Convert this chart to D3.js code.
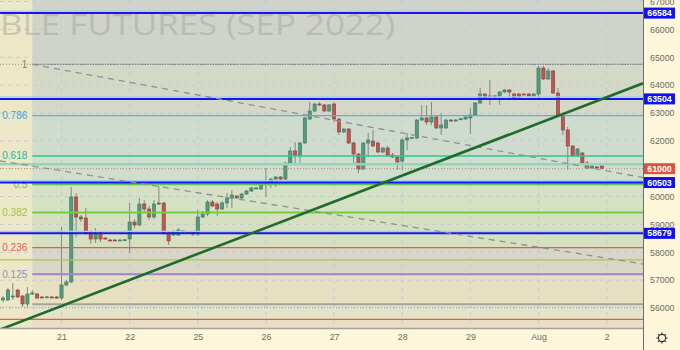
<!DOCTYPE html>
<html>
<head>
<meta charset="utf-8">
<script src="https://cdnjs.cloudflare.com/ajax/libs/d3/7.8.5/d3.min.js"></script>
<style>
body { margin: 0; background: #fdf6da; }
svg { display: block; font-family: "Liberation Sans", Arial, sans-serif; }
.axis text { fill: #6b6b6b; font-size: 8.8px; }
.axis path { display: none; }
</style>
</head>
<body>
<div id="chart"></div>
<script>
// days: 0 = Jul 20, 1 = Jul 21 ... 8 = Aug 1, 9 = Aug 2 (14 hourly bars a day)
var dayNums = [1, 2, 3, 4, 5, 6, 7, 8, 9];
var dayLabels = ["21", "22", "25", "26", "27", "28", "29", "Aug", "2"];
var priceTicks = [56000, 57000, 58000, 59000, 60000, 61000, 62000, 63000, 64000, 65000, 66000, 67000];

// [open, high, low, close]
var jul20 = [[56287,56431,56215,56359],[56287,56718,56251,56646],[56395,56897,56287,56431],[56646,56682,56359,56395],
  [56431,56467,56036,56143],[56143,56753,56036,56502],[56502,56646,56467,56538],[56502,56538,56323,56359],
  [56395,56431,56359,56377],[56395,56431,56359,56400],[56395,56431,56359,56377],[56395,56431,56323,56359]];
var jul21 = [[56359,58907,56287,56825],[56825,57005,56789,56933],[56933,60342,56897,59984],[59984,60127,58548,59266],
  [59266,59338,59086,59194],[59230,59589,58620,58692],[58692,58799,58297,58476],[58476,58871,58333,58692],
  [58692,58764,58369,58476],[58512,58548,58440,58476],[58440,58476,58405,58430],[58440,58476,58405,58420],
  [58430,58476,58405,58440],[58440,58476,58405,58450]];
var jul22 = [[58476,59768,57974,59086],[59086,59194,58871,58979],[58979,59948,58943,59732],[59732,59876,59445,59553],
  [59553,59661,59158,59266],[59266,59876,59194,59732],[59768,60378,59697,59750],[59768,59804,58620,58692],
  [58692,58764,58261,58405],[58620,58799,58584,58728],[58620,58871,58584,58799],[58764,58799,58692,58745],
  [58728,58764,58692,58735],[58728,58764,58584,58656]];
var jul25 = [[58656,59517,58584,59266],[59266,59481,59230,59373],[59373,59876,59302,59804],[59804,59876,59625,59661],
  [59732,59804,59302,59553],[59553,59840,59517,59768],[59768,60127,59589,59948],[59948,60235,59589,60056],
  [60020,60056,59912,59948],[59948,60127,59912,60091],[60091,60235,60056,60199],[60199,60342,60163,60307],
  [60289,60342,60271,60307],[60271,60522,60235,60486]];
var jul26 = [[60450,61024,59984,60468],[60450,60665,60307,60629],[60629,60737,60342,60701],[60701,60737,60593,60629],
  [60629,61240,60593,61204],[61204,61778,61168,61635],[61635,61958,61204,61491],[61491,61958,61132,61922],
  [61922,62855,61886,62819],[62783,63393,62747,63070],[63070,63357,63034,63321],[63321,63393,63250,63286],
  [63286,63321,63034,63070],[63070,63321,63034,63286]];
var jul27 = [[63321,63393,62675,62783],[62783,62819,62209,62317],[62317,62460,62281,62424],[62424,62460,61886,61922],
  [61922,61958,61204,61527],[61527,61563,60845,60989],[60989,61958,60953,61922],[61922,62281,61419,62029],
  [61993,62388,61778,61814],[61922,61958,61563,61599],[61599,61778,61563,61742],[61742,61814,61419,61491],
  [61491,61563,61383,61419],[61419,61455,60953,61240]];
var jul28 = [[61276,62101,60953,62029],[62029,62281,61670,62101],[62101,62137,62065,62119],[62101,62783,62065,62747],
  [62747,63286,62711,62819],[62819,63286,62568,62675],[62675,63393,62568,62855],[62855,62891,62424,62460],
  [62460,62998,62209,62568],[62460,62783,62424,62747],[62747,62783,62675,62711],[62711,62783,62675,62747],
  [62783,62819,62747,62790],[62783,62891,62747,62855]];
var jul29 = [[62819,63178,62245,62927],[62927,63393,62891,63357],[63357,63895,63321,63680],[63680,63716,63501,63537],
  [63609,64183,63286,63591],[63609,63645,63537,63573],[63609,63788,63286,63752],[63752,63860,63716,63824],
  [63824,63860,63465,63752],[63680,63716,63501,63537],[63680,63716,63537,63573],[63680,63698,63645,63662],
  [63680,63716,63573,63609],[63609,63716,63573,63680]];
var aug1 = [[63680,64685,63465,64613],[64613,64685,64183,64219],[64219,64613,64183,64506],[64506,64542,63680,63716],
  [63716,63895,62891,62927],[62927,62963,62209,62388],[62388,62496,60953,61814],[61814,61850,61419,61455],
  [61455,61742,61419,61706],[61563,61599,61168,61204],[61204,61276,60989,61024],[61024,61132,60989,61096],
  [61060,61096,61024,61050],[61096,61132,60989,61000]];

// fibonacci retracement (anchored at Jul 20, bar 8)
var fibLow = 56133, fibHigh = 64746, fibStart = 8 / 14;
var fibLevels = [1, 0.786, 0.618, 0.5, 0.382, 0.236, 0.125, 0];
var fibLabels = ["1", "0.786", "0.618", "0.5", "0.382", "0.236", "0.125", ""];

// horizontal levels
var keyLevels = [66584, 63504, 60503, 58679];
var otherLevels = [61157, 57726, 56024, 55594];
var lastPrice = 61000;

// trend lines: [t, price] pairs
var trendUp = [[0.0976, 55225], [9.533, 64064]];
var dashA = [[fibStart, 64746], [9.533, 60680]];
var dashB = [[0.0976, 61276], [9.533, 57579]];

var width = 680, height = 350, plotW = 643, plotH = 328;

var x = d3.scaleLinear().domain([1, 9]).range([61.5, 606.7]);
var y = d3.scaleLinear().domain([67000, 56000]).range([1.5, 308]);

var candles = [];
[[0, 2, jul20], [1, 0, jul21], [2, 0, jul22], [3, 0, jul25], [4, 0, jul26],
 [5, 0, jul27], [6, 0, jul28], [7, 0, jul29], [8, 0, aug1]].forEach(function(d) {
  d[2].forEach(function(b, k) {
    candles.push({t: d[0] + (d[1] + k) / 14, o: b[0], h: b[1], l: b[2], c: b[3]});
  });
});

var svg = d3.select("#chart").append("svg")
  .attr("width", width)
  .attr("height", height);

svg.append("rect").attr("width", width).attr("height", height).attr("fill", "#fdf6da");

svg.append("clipPath").attr("id", "plot").append("rect")
  .attr("width", plotW).attr("height", plotH);

var plot = svg.append("g").attr("clip-path", "url(#plot)");

plot.append("rect").attr("width", plotW).attr("height", plotH).attr("fill", "#ece8c7");

// fib background bands
var fibPrice = function(r) { return fibLow + r * (fibHigh - fibLow); };
var bandColors = ["#cfd3c9", "#d4d8c6", "#cedbcd", "#d0dfcb", "#d5e1c3", "#d6dfc0", "#d8d6c5", "#e6dfc1", "#e3e5c8"];
var bandEdges = [0].concat(fibLevels.map(function(r) { return y(fibPrice(r)); })).concat([plotH]);
var fx = x(fibStart);
for (var i = 0; i < bandEdges.length - 1; i++) {
  plot.append("rect")
    .attr("x", fx).attr("y", bandEdges[i])
    .attr("width", plotW - fx).attr("height", bandEdges[i + 1] - bandEdges[i])
    .attr("fill", bandColors[i]);
}
// small pinkish strip under the red level
plot.append("rect").attr("x", fx).attr("y", y(otherLevels[3]))
  .attr("width", plotW - fx).attr("height", plotH - y(otherLevels[3]))
  .attr("fill", "#ebdcc4");

// grid
plot.selectAll(".hgrid").data(priceTicks).enter().append("line")
  .attr("x1", 0).attr("x2", plotW)
  .attr("y1", function(d) { return y(d); }).attr("y2", function(d) { return y(d); })
  .attr("stroke", "#c3cbd8").attr("stroke-width", 1).attr("stroke-dasharray", "4,4");
plot.selectAll(".vgrid").data(dayNums).enter().append("line")
  .attr("y1", 0).attr("y2", plotH)
  .attr("x1", function(d) { return x(d); }).attr("x2", function(d) { return x(d); })
  .attr("stroke", "#c3cbd8").attr("stroke-width", 1).attr("stroke-dasharray", "4,4");

// watermark
svg.append("text")
  .attr("x", 0).attr("y", 35)
  .attr("textLength", 395).attr("lengthAdjust", "spacingAndGlyphs")
  .attr("font-family", "'Open Sans', sans-serif")
  .attr("font-size", 30).attr("fill", "#a3a59f").attr("fill-opacity", 0.5)
  .text("BLE FUTURES (SEP 2022)");

// candles
var cg = plot.append("g");
cg.selectAll(".wick").data(candles).enter().append("line")
  .attr("x1", function(d) { return x(d.t); }).attr("x2", function(d) { return x(d.t); })
  .attr("y1", function(d) { return y(d.h); }).attr("y2", function(d) { return y(d.l); })
  .attr("stroke", "#7f8987").attr("stroke-width", 1);
cg.selectAll(".body").data(candles).enter().append("rect")
  .attr("x", function(d) { return x(d.t) - 1.6; })
  .attr("width", 3.2)
  .attr("y", function(d) { return y(Math.max(d.o, d.c)); })
  .attr("height", function(d) { return Math.max(1, Math.abs(y(d.o) - y(d.c))); })
  .attr("fill", function(d) { return d.c >= d.o ? "#55997e" : "#b85a52"; })
  .attr("stroke", function(d) { return d.c >= d.o ? "#3c7a63" : "#8c3f39"; })
  .attr("stroke-width", 0.6);

// other horizontal levels
var otherColors = ["#8fd6be", "#a9c84a", "#8ea0a0", "#e05a5a"];
var otherWidths = [2.5, 1.3, 1, 1.3];
otherLevels.forEach(function(p, i) {
  plot.append("line")
    .attr("x1", 0).attr("x2", plotW).attr("y1", y(p)).attr("y2", y(p))
    .attr("stroke", otherColors[i]).attr("stroke-width", otherWidths[i])
    .attr("stroke-dasharray", i == 2 ? "1,2" : null);
});

// last price line
plot.append("line")
  .attr("x1", 0).attr("x2", plotW).attr("y1", y(lastPrice)).attr("y2", y(lastPrice))
  .attr("stroke", "#c98a6a").attr("stroke-width", 1).attr("stroke-dasharray", "1,2");

// fib level lines + labels
var fibColors = ["#80838a", "#5aaee6", "#2fc39b", "#5cc25a", "#6fcf3f", "#e05a5a", "#9c85cc", "#a5a49c"];
var fibTextColors = ["#80838a", "#3f9ede", "#2bb597", "#5fc15a", "#a2c33a", "#e35d5d", "#9a86c6", "#a5a49c"];
var fibWidths = [1.2, 1.2, 1.4, 2, 2, 1.4, 2, 2];
plot.append("line")
  .attr("x1", 0).attr("x2", plotW).attr("y1", y(fibHigh)).attr("y2", y(fibHigh))
  .attr("stroke", "#8c8e8a").attr("stroke-width", 1).attr("stroke-dasharray", "1,2");
fibLevels.forEach(function(r, i) {
  var yy = y(fibPrice(r));
  plot.append("line")
    .attr("x1", fx).attr("x2", plotW).attr("y1", yy).attr("y2", yy)
    .attr("stroke", fibColors[i]).attr("stroke-width", fibWidths[i])
    .attr("stroke-dasharray", i == 0 ? "1.5,1" : null);
  plot.append("text")
    .attr("x", fx - 5).attr("y", yy).attr("dy", "0.35em")
    .attr("text-anchor", "end").attr("font-size", 10)
    .attr("fill", fibTextColors[i])
    .text(fibLabels[i]);
});

// key blue levels
keyLevels.forEach(function(p) {
  plot.append("line")
    .attr("x1", 0).attr("x2", plotW).attr("y1", y(p) - 2).attr("y2", y(p) - 2)
    .attr("stroke", "#a9cbe9").attr("stroke-width", 1.2);
  plot.append("line")
    .attr("x1", 0).attr("x2", plotW).attr("y1", y(p)).attr("y2", y(p))
    .attr("stroke", "#1515f0").attr("stroke-width", 2);
});

// diagonal lines
var line = d3.line().x(function(d) { return x(d[0]); }).y(function(d) { return y(d[1]); });
plot.append("path").datum(dashA).attr("d", line)
  .attr("stroke", "#8e928e").attr("stroke-width", 1.3).attr("stroke-dasharray", "6,5").attr("fill", "none");
plot.append("path").datum(dashB).attr("d", line)
  .attr("stroke", "#8e928e").attr("stroke-width", 1.3).attr("stroke-dasharray", "6,5").attr("fill", "none");
plot.append("path").datum(trendUp).attr("d", line)
  .attr("stroke", "#1f6b2b").attr("stroke-width", 2.6).attr("fill", "none");

// borders
svg.append("line").attr("x1", 0).attr("x2", plotW).attr("y1", plotH + 0.5).attr("y2", plotH + 0.5)
  .attr("stroke", "#a3a39b").attr("stroke-width", 1.5);
svg.append("line").attr("x1", plotW + 0.5).attr("x2", plotW + 0.5).attr("y1", 0).attr("y2", height)
  .attr("stroke", "#6f6f6a").attr("stroke-width", 1);

// axes (the 61000 tick sits under the last price box)
svg.append("g").attr("class", "axis")
  .attr("transform", "translate(0," + plotH + ")")
  .call(d3.axisBottom(x).tickValues(dayNums).tickFormat(function(d, i) { return dayLabels[i]; })
    .tickSize(0).tickPadding(6));
svg.append("g").attr("class", "axis")
  .attr("transform", "translate(" + plotW + ",0)")
  .call(d3.axisRight(y).tickValues(priceTicks.filter(function(p) { return p != lastPrice; }))
    .tickFormat(d3.format("d")).tickSize(0).tickPadding(7));

// boxed price labels
function priceBox(p, color) {
  svg.append("rect").attr("x", plotW + 1).attr("y", y(p) - 5.5).attr("width", 31).attr("height", 11)
    .attr("fill", color);
  svg.append("text").attr("x", plotW + 16.5).attr("y", y(p)).attr("dy", "0.35em")
    .attr("text-anchor", "middle").attr("font-size", 8.8).attr("font-weight", "bold")
    .attr("fill", "#ffffff").text(p);
}
keyLevels.forEach(function(p) { priceBox(p, "#1010f5"); });
priceBox(lastPrice, "#d9533f");

// settings gear
var gear = svg.append("g").attr("transform", "translate(662,338)");
gear.append("circle").attr("r", 3.6).attr("fill", "none").attr("stroke", "#333").attr("stroke-width", 1.1);
d3.range(8).forEach(function(k) {
  var a = k * Math.PI / 4;
  gear.append("line")
    .attr("x1", Math.cos(a) * 3.6).attr("y1", Math.sin(a) * 3.6)
    .attr("x2", Math.cos(a) * 5.6).attr("y2", Math.sin(a) * 5.6)
    .attr("stroke", "#333").attr("stroke-width", 1.1);
});
</script>
</body>
</html>
